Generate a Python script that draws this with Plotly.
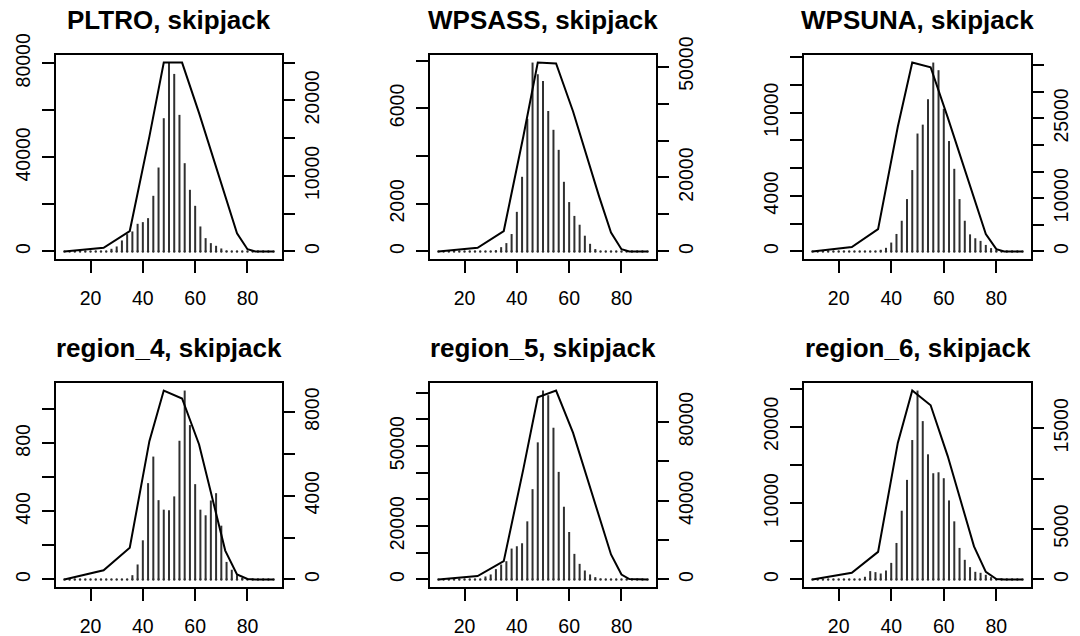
import plotly.graph_objects as go

# ---------------- data ----------------
bar_x = list(range(10, 92, 2))  # length classes 10..90 (41)
line_x = [10, 25, 35, 42.5, 48, 55, 61.5, 71.5, 76, 80, 83, 90]

titles = ["PLTRO, skipjack", "WPSASS, skipjack", "WPSUNA, skipjack",
          "region_4, skipjack", "region_5, skipjack", "region_6, skipjack"]

bars_pltro = [0]*9 + [1130, 2120, 4670, 7360, 8500, 11750, 12460, 14160, 23650, 35680,
                      56640, 80300, 75470, 58060, 37520, 26200, 19400, 10620, 5660, 3540,
                      2400, 1270, 300] + [0]*9
bars_wpsass = [0]*11 + [50, 180, 350, 730, 1660, 3130, 5560, 7920, 7430, 7150, 5890, 5100,
                        4260, 2920, 2070, 1490, 1120, 660, 320, 100] + [0]*10
bars_wpsuna = [0]*13 + [120, 260, 640, 1260, 2210, 3770, 5860, 8490, 9130, 10960, 13600,
                        13050, 10270, 7950, 5950, 3770, 2210, 1230, 950, 760, 470, 240,
                        100] + [0]*5
bars_region4 = [0]*13 + [25, 88, 230, 566, 722, 466, 410, 406, 488, 815, 1110, 907, 560,
                         410, 377, 464, 507, 316, 103, 57, 25, 10] + [0]*6
bars_region5 = [0]*9 + [1120, 1870, 3860, 5600, 6850, 11580, 12450, 13570, 21790, 33860,
                        51420, 70840, 69100, 56900, 40340, 27270, 17800, 9590, 5850, 3360,
                        1870, 870, 300] + [0]*9
bars_region6 = [0]*10 + [350, 1090, 960, 780, 1170, 2170, 4780, 9000, 13040, 18260, 24740,
                         20740, 16390, 13910, 14040, 13260, 10350, 7610, 4130, 2570, 1610,
                         1000, 870, 610, 300] + [0]*6

line_pltro = [0, 480, 2700, 15200, 25000, 25000, 18300, 7150, 2400, 300, 0, 0]
line_wpsass = [0, 970, 5520, 31160, 51080, 50820, 37850, 14760, 5110, 610, 0, 0]
line_wpsuna = [0, 820, 4190, 23430, 35500, 34610, 25210, 9760, 3270, 430, 0, 0]
line_region4 = [0, 440, 1520, 6610, 9030, 8650, 6450, 1380, 240, 20, 0, 0]
line_region5 = [0, 1730, 9310, 56200, 92600, 96000, 74500, 31000, 12700, 2500, 200, 0]
line_region6 = [0, 660, 2740, 13550, 18740, 17280, 12240, 3280, 750, 40, 0, 0]

x_ticks = [20, 40, 60, 80]

left_ticks = [
    ([0, 20000, 40000, 60000, 80000], ["0", "", "40000", "", "80000"]),
    ([0, 2000, 4000, 6000, 8000], ["0", "2000", "", "6000", ""]),
    ([0, 2000, 4000, 6000, 8000, 10000, 12000, 14000], ["0", "", "4000", "", "", "10000", "", ""]),
    ([0, 200, 400, 600, 800, 1000], ["0", "", "400", "", "800", ""]),
    ([0, 10000, 20000, 30000, 40000, 50000, 60000, 70000], ["0", "", "20000", "", "", "50000", "", ""]),
    ([0, 5000, 10000, 15000, 20000, 25000], ["0", "", "10000", "", "20000", ""]),
]
right_ticks = [
    ([0, 5000, 10000, 15000, 20000, 25000], ["0", "", "10000", "", "20000", ""]),
    ([0, 10000, 20000, 30000, 40000, 50000], ["0", "", "20000", "", "", "50000"]),
    ([0, 5000, 10000, 15000, 20000, 25000, 30000, 35000], ["0", "", "10000", "", "", "25000", "", ""]),
    ([0, 2000, 4000, 6000, 8000], ["0", "", "4000", "", "8000"]),
    ([0, 20000, 40000, 60000, 80000], ["0", "", "40000", "", "80000"]),
    ([0, 5000, 10000, 15000], ["0", "5000", "", "15000"]),
]

all_bars = [bars_pltro, bars_wpsass, bars_wpsuna, bars_region4, bars_region5, bars_region6]
all_lines = [line_pltro, line_wpsass, line_wpsuna, line_region4, line_region5, line_region6]

# ---------------- layout geometry (pixels) ----------------
W, H = 1080, 636
cols = [(56, 282), (430, 656), (804, 1031)]
rows = [(55, 259), (383, 587)]

FONT = "Liberation Sans, Arial, sans-serif"
TICK_SIZE = 19.5
TITLE_SIZE = 26

fig = go.Figure()
layout = dict(
    width=W, height=H, margin=dict(l=0, r=0, t=0, b=0, autoexpand=False),
    paper_bgcolor="white", plot_bgcolor="white", showlegend=False,
    font=dict(family=FONT, color="black", size=TICK_SIZE),
)
annotations = []

for i in range(6):
    r, c = divmod(i, 3)
    xl, xr = cols[c]
    yt, yb = rows[r]
    xn = i + 1
    ylnum = 2 * i + 1
    yrnum = 2 * i + 2
    xa = "x" if xn == 1 else f"x{xn}"
    yl = "y" if ylnum == 1 else f"y{ylnum}"
    yr = f"y{yrnum}"

    bars = all_bars[i]
    line = all_lines[i]

    # vertical "type h" bars
    bx, by = [], []
    for xv, yv in zip(bar_x, bars):
        bx += [xv, xv, None]
        by += [0, yv, None]
    fig.add_trace(go.Scatter(x=bx, y=by, mode="lines", xaxis=xa, yaxis=yl,
                             line=dict(color="#303030", width=2), hoverinfo="skip"))
    # round caps of zero-height bars (dots)
    fig.add_trace(go.Scatter(x=bar_x, y=[0] * len(bar_x), mode="markers", xaxis=xa, yaxis=yl,
                             marker=dict(color="#303030", size=2.4, line=dict(width=0)),
                             hoverinfo="skip"))
    # curve on right axis
    fig.add_trace(go.Scatter(x=line_x, y=line, mode="lines", xaxis=xa, yaxis=yr,
                             line=dict(color="black", width=2), hoverinfo="skip"))

    mb = max(bars)
    ml = max(line)
    xdom = [xl / W, xr / W]
    ydom = [1 - yb / H, 1 - yt / H]

    common = dict(showgrid=False, zeroline=False, ticks="outside", ticklen=12,
                  tickwidth=2, tickcolor="black", automargin=False,
                  tickfont=dict(family=FONT, size=TICK_SIZE, color="black"))

    layout[f"xaxis{xn}"] = dict(domain=xdom, anchor=yl, range=[6.8, 93.2],
                                tickvals=x_ticks, ticktext=[str(t) for t in x_ticks],
                                showline=True, mirror=True, linewidth=2, linecolor="black",
                                ticklabelstandoff=9, **common)
    lv, lt = left_ticks[i]
    layout[f"yaxis{ylnum}"] = dict(domain=ydom, anchor=xa, range=[-0.04 * mb, 1.04 * mb],
                                   tickvals=lv, ticktext=lt, tickangle=-90,
                                   showline=True, mirror=True, linewidth=2, linecolor="black",
                                   ticklabelstandoff=4, **common)
    rv, rt = right_ticks[i]
    layout[f"yaxis{yrnum}"] = dict(domain=ydom, anchor=xa, overlaying=yl, side="right",
                                   range=[-0.04 * ml, 1.04 * ml],
                                   tickvals=rv, ticktext=rt, tickangle=-90,
                                   showline=False, ticklabelstandoff=1, **common)

    annotations.append(dict(text=f"<b>{titles[i]}</b>", xref="paper", yref="paper",
                            x=(xl + xr) / 2 / W, y=1 - (yt - 35) / H,
                            xanchor="center", yanchor="middle", showarrow=False,
                            font=dict(family=FONT, size=TITLE_SIZE, color="black")))

layout["annotations"] = annotations
fig.update_layout(**layout)

fig.write_html("out.html", config={"displayModeBar": False},
               post_script="document.body.style.margin='0';")
